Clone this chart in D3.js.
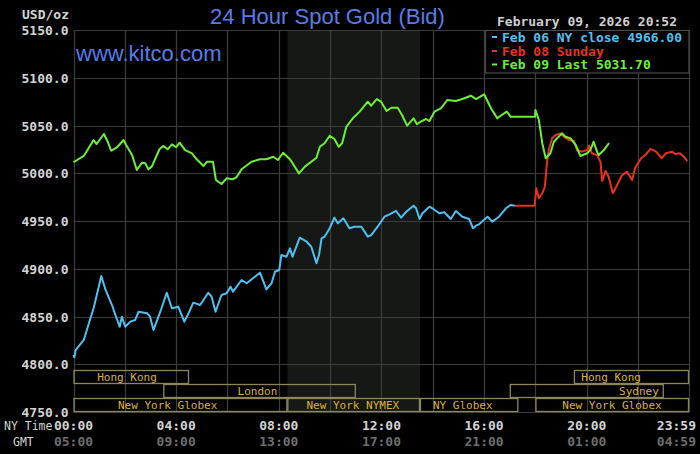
<!DOCTYPE html>
<html>
<head>
<meta charset="utf-8">
<script src="https://cdn.jsdelivr.net/npm/d3@7/dist/d3.min.js"></script>
<style>
  html, body { margin: 0; padding: 0; background: #000; }
  svg { display: block; }
</style>
</head>
<body>
<svg id="chart" width="700" height="454"></svg>
<script>
// ---------------- DATA ----------------
const yTicks = [4750, 4800, 4850, 4900, 4950, 5000, 5050, 5100, 5150];
const nyTimeLabels = ["00:00", "04:00", "08:00", "12:00", "16:00", "20:00", "23:59"];
const gmtLabels    = ["05:00", "09:00", "13:00", "17:00", "21:00", "01:00", "04:59"];
const labelMinutes = [0, 240, 480, 720, 960, 1200, 1439];

// Feb 06 NY close (blue) — minutes after 00:00 NY time, price
const feb06Minutes = [0,2,5,24,36,47,65,75,90,98,108,113,121,133,144,152,172,179,187,203,218,230,245,259,269,280,296,315,323,332,346,358,367,373,393,405,424,436,451,463,471,481,486,498,506,512,529,545,556,568,574,580,587,599,610,618,631,645,657,673,688,696,711,727,739,754,758,766,778,795,801,809,816,832,841,855,867,882,894,909,925,934,941,948,968,979,995,1011,1022,1032];
const feb06Prices = [4809.7,4807.3,4814.9,4825.4,4842.9,4858.6,4892.4,4877.8,4862.0,4851.6,4839.3,4849.8,4839.3,4844.6,4846.3,4855.0,4853.4,4849.8,4835.9,4855.0,4874.9,4858.6,4860.3,4844.6,4853.4,4864.5,4862.0,4874.9,4870.7,4855.0,4872.5,4874.3,4881.2,4876.0,4888.2,4884.8,4891.7,4895.9,4878.5,4884.8,4896.9,4898.7,4914.4,4912.6,4921.4,4912.6,4932.5,4928.3,4923.1,4905.7,4914.4,4931.9,4933.6,4942.4,4953.5,4947.6,4952.8,4942.4,4944.0,4944.0,4933.6,4935.3,4944.0,4954.5,4957.0,4960.5,4958.1,4953.5,4959.7,4966.0,4963.3,4952.1,4958.1,4965.0,4962.6,4958.1,4959.1,4952.1,4960.5,4954.5,4952.1,4942.4,4945.1,4946.5,4954.5,4949.3,4954.5,4963.3,4966.8,4966.0];

// Feb 08 Sunday (red)
const feb08Minutes = [1032,1078,1082,1088,1096,1102,1107,1111,1119,1127,1139,1146,1158,1170,1177,1189,1201,1205,1212,1224,1232,1236,1244,1251,1261,1271,1282,1294,1306,1313,1327,1337,1349,1362,1375,1385,1399,1407,1418,1430,1435];
const feb08Prices = [4966.0,4966.0,4984.2,4973.8,4979.0,4985.9,5011.3,5024.3,5036.6,5040.1,5041.8,5038.3,5034.8,5033.8,5024.3,5022.6,5024.3,5029.1,5020.9,5019.1,5012.1,4991.9,5002.4,4996.4,4979.0,4987.7,4997.6,5001.6,4992.9,5005.5,5015.7,5019.1,5025.6,5022.6,5015.7,5020.9,5022.6,5020.2,5020.9,5015.7,5012.8];

// Feb 09 Last (green)
const feb09Minutes = [0,24,47,54,71,80,88,102,117,123,137,148,160,168,175,183,201,210,220,230,240,248,261,277,288,304,312,326,333,346,358,372,381,393,416,436,451,467,478,490,506,510,527,541,568,576,587,599,610,620,628,638,653,669,688,696,709,719,732,743,758,768,780,795,803,812,824,832,844,859,874,894,909,929,941,960,976,991,1001,1013,1022,1079,1080,1088,1096,1104,1115,1123,1142,1150,1162,1174,1185,1201,1209,1216,1224,1228,1240,1252];
const feb09Prices = [5011.5,5018.1,5034.8,5030.6,5041.1,5033.0,5023.6,5027.2,5034.8,5029.6,5019.1,5003.4,5011.0,5010.4,5004.1,5006.9,5025.1,5028.5,5025.1,5030.3,5027.2,5032.0,5024.3,5020.9,5014.6,5007.6,5012.1,5012.1,4992.9,4988.7,4994.7,4993.7,4995.8,5004.1,5012.1,5014.6,5014.6,5017.3,5013.9,5021.5,5014.6,5012.1,4999.9,5006.9,5016.3,5027.8,5031.4,5039.3,5035.9,5027.8,5031.4,5048.7,5057.5,5064.5,5074.9,5070.7,5077.7,5074.9,5065.2,5068.6,5068.6,5061.0,5049.8,5057.5,5051.3,5054.0,5056.8,5054.7,5064.5,5068.0,5076.7,5075.7,5077.7,5081.2,5077.7,5082.7,5068.0,5057.5,5061.0,5064.5,5059.2,5059.2,5066.2,5055.8,5031.4,5015.7,5020.9,5033.0,5041.8,5038.3,5036.6,5029.6,5018.1,5020.9,5025.1,5033.0,5022.6,5019.1,5024.3,5031.7];

const legendLabels = ["Feb 06 NY close 4966.00", "Feb 08 Sunday", "Feb 09 Last 5031.70"];

// Trading sessions
const sessionNames  = ["Hong Kong", "London", "New York Globex", "New York NYMEX", "NY Globex", "Hong Kong", "Sydney", "New York Globex"];
const sessionRows   = [0, 1, 2, 2, 2, 0, 1, 2];
const sessionStarts = ["00:00", "03:30", "00:00", "08:20", "13:30", "19:30", "17:00", "18:00"];
const sessionEnds   = ["04:30", "11:00", "08:20", "13:30", "17:20", "23:59", "23:00", "23:59"];
const sessionLabelAt = ["02:05", "07:10", "03:40", "10:53", "15:10", "20:57", "22:02", "20:59"];

const nymexShade = ["08:20", "13:30"];

// ---------------- DRAW ----------------
const plotL = 73.5, plotR = 689, plotT = 30, plotB = 412;
const svg = d3.select("#chart");
const toMin = s => { const [h, m] = s.split(":").map(Number); return h * 60 + m; };

const x = d3.scaleLinear().domain([0, 1439]).range([plotL, plotR]);
const y = d3.scaleLinear().domain([4750, 5150]).range([plotB, plotT]);

const mono = "'DejaVu Sans Mono', monospace";
const sans = "'Liberation Sans', Arial, sans-serif";

// NYMEX shading
svg.append("rect")
  .attr("x", x(toMin(nymexShade[0]))).attr("y", plotT)
  .attr("width", x(toMin(nymexShade[1])) - x(toMin(nymexShade[0])))
  .attr("height", plotB - plotT)
  .attr("fill", "#151815");

// grid
const gridColor = "#3d3d3d";
const vGrid = d3.range(0, 1440, 120).concat([1439]);
svg.append("g").selectAll("line").data(vGrid).join("line")
  .attr("x1", d => Math.round(x(d)) + 0.5).attr("x2", d => Math.round(x(d)) + 0.5)
  .attr("y1", plotT).attr("y2", plotB)
  .attr("stroke", gridColor).attr("stroke-width", 1.2);
svg.append("g").selectAll("line").data(yTicks).join("line")
  .attr("x1", plotL).attr("x2", plotR + 0.5)
  .attr("y1", d => Math.round(y(d)) + 0.5).attr("y2", d => Math.round(y(d)) + 0.5)
  .attr("stroke", gridColor).attr("stroke-width", 1.2);

// y axis labels
const yAxis = d3.axisLeft(y).tickValues(yTicks).tickFormat(d3.format(".1f")).tickSize(0).tickPadding(5);
const yg = svg.append("g").attr("transform", `translate(${plotL},0)`).call(yAxis);
yg.select(".domain").remove();
yg.selectAll("text").attr("fill", "#d4d4d4").attr("font-family", mono)
  .attr("font-size", 13).attr("font-weight", "bold").attr("dy", "0.35em");

// sessions
const rowTop = [370, 384, 398];
const rowH = 14;
const sessions = sessionNames.map((n, i) => ({
  name: n, row: sessionRows[i], s: toMin(sessionStarts[i]), e: toMin(sessionEnds[i]), at: toMin(sessionLabelAt[i])
}));
const sg = svg.append("g");
sg.selectAll("rect").data(sessions).join("rect")
  .attr("x", d => x(d.s) + 0.5).attr("y", d => rowTop[d.row] + 0.5)
  .attr("width", d => x(d.e) - x(d.s) - 1).attr("height", rowH - 1)
  .attr("fill", "none").attr("stroke", "#8c865a").attr("stroke-width", 1.3);
sg.selectAll("text").data(sessions).join("text")
  .attr("x", d => x(d.at)).attr("y", d => rowTop[d.row] + rowH / 2 + 0.5)
  .attr("dy", "0.35em").attr("text-anchor", "middle")
  .attr("fill", "#dcb232").attr("font-family", mono).attr("font-size", 11)
  .text(d => d.name);

// lines
const line = d3.line().x(d => x(d[0])).y(d => y(d[1]));
const series = [
  { m: feb06Minutes, v: feb06Prices, c: "#4fc0f0" },
  { m: feb08Minutes, v: feb08Prices, c: "#e8321e" },
  { m: feb09Minutes, v: feb09Prices, c: "#6cf036" }
];
series.forEach(s => {
  svg.append("path").datum(s.m.map((mm, i) => [mm, s.v[i]]))
    .attr("d", line).attr("fill", "none").attr("stroke", s.c)
    .attr("stroke-width", 2).attr("stroke-linejoin", "round");
});

// legend box
svg.append("rect").attr("x", 485.5).attr("y", 30.5).attr("width", 203.5).attr("height", 42.5)
  .attr("fill", "#000").attr("stroke", "#4a4a4a").attr("stroke-width", 1.2);
const legColors = ["#4fc0f0", "#e8321e", "#6cf036"];
const legY = [37, 51, 64.5];
legendLabels.forEach((t, i) => {
  svg.append("line").attr("x1", 492).attr("x2", 497).attr("y1", legY[i]).attr("y2", legY[i])
    .attr("stroke", legColors[i]).attr("stroke-width", 2);
  svg.append("text").attr("x", 502).attr("y", legY[i]).attr("dy", "0.35em")
    .attr("fill", legColors[i]).attr("font-family", mono).attr("font-size", 13).attr("font-weight", "bold")
    .text(t);
});

// titles
svg.append("text").attr("x", 327.5).attr("y", 24).attr("text-anchor", "middle")
  .attr("fill", "#5a7be8").attr("font-family", sans).attr("font-size", 22)
  .text("24 Hour Spot Gold (Bid)");
svg.append("text").attr("x", 76).attr("y", 61)
  .attr("fill", "#5a7be8").attr("font-family", sans).attr("font-size", 22)
  .text("www.kitco.com");
svg.append("text").attr("x", 69).attr("y", 18.5).attr("text-anchor", "end")
  .attr("fill", "#d4d4d4").attr("font-family", mono).attr("font-size", 13).attr("font-weight", "bold")
  .text("USD/oz");
svg.append("text").attr("x", 677).attr("y", 26).attr("text-anchor", "end")
  .attr("fill", "#cfcfcf").attr("font-family", mono).attr("font-size", 13).attr("font-weight", "bold")
  .text("February 09, 2026 20:52");

// x labels
labelMinutes.forEach((m, i) => {
  const last = i === labelMinutes.length - 1;
  const xx = last ? 696 : x(m);
  const anchor = last ? "end" : "middle";
  svg.append("text").attr("x", xx).attr("y", 430).attr("text-anchor", anchor)
    .attr("fill", "#d4d4d4").attr("font-family", mono).attr("font-size", 13).attr("font-weight", "bold")
    .text(nyTimeLabels[i]);
  svg.append("text").attr("x", xx).attr("y", 445.5).attr("text-anchor", anchor)
    .attr("fill", "#6e6e6e").attr("font-family", mono).attr("font-size", 13).attr("font-weight", "bold")
    .text(gmtLabels[i]);
});
svg.append("text").attr("x", 4).attr("y", 430)
  .attr("fill", "#d4d4d4").attr("font-family", mono).attr("font-size", 11.5)
  .text("NY Time");
svg.append("text").attr("x", 13).attr("y", 445.5)
  .attr("fill", "#d4d4d4").attr("font-family", mono).attr("font-size", 11.5)
  .text("GMT");
</script>
</body>
</html>
